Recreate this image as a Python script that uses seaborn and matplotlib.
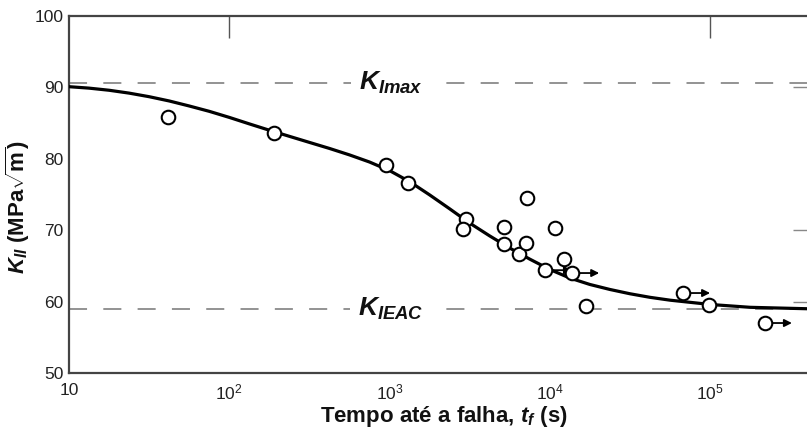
import numpy as np
import pandas as pd
import matplotlib
matplotlib.use("Agg")
import matplotlib.pyplot as plt
import seaborn as sns

# ---- data ----
t_fail = [41.5, 190, 950, 1300, 3000, 2880, 5180, 5180, 6430, 7210, 7100,
          9330, 10800, 12300, 13800, 16800, 67900, 98600, 220000]
k_ii = [85.9, 83.6, 79.1, 76.6, 71.6, 70.2, 70.4, 68.1, 66.7, 74.5, 68.2,
        64.4, 70.3, 66.0, 64.0, 59.4, 61.2, 59.5, 57.0]
runout = [False, False, False, False, False, False, False, False, False, False, False,
          True, False, False, True, False, True, False, True]

curve_t = [10, 13.3, 17.8, 23.7, 31.6, 42.2, 56.2, 75.0, 100, 133, 178, 237,
           316, 422, 562, 750, 1000, 1334, 1778, 2371, 3162, 4217, 5623, 7499,
           10000, 13335, 17783, 23714, 31623, 42170, 56234, 74989, 100000,
           177828, 402717]
curve_k = [90.1, 89.9, 89.6, 89.2, 88.7, 88.1, 87.4, 86.65, 85.8, 84.9, 84.0, 83.15,
           82.3, 81.45, 80.55, 79.55, 78.35, 76.8, 74.95, 73.0, 71.0, 69.2, 67.5, 65.95,
           64.5, 63.3, 62.4, 61.7, 61.1, 60.6, 60.2, 59.9, 59.6,
           59.2, 59.0]

k_imax = 90.6
k_ieac = 59.0

x_ticks = [10, 1e2, 1e3, 1e4, 1e5]
x_tick_labels = ["10", r"10$^{2}$", r"10$^{3}$", r"10$^{4}$", r"10$^{5}$"]
y_ticks = [50, 60, 70, 80, 90, 100]

pts = pd.DataFrame({"t": t_fail, "k": k_ii, "runout": runout})
crv = pd.DataFrame({"t": curve_t, "k": curve_k})

# ---- style ----
sns.set_theme(style="white")
plt.rcParams["font.family"] = ["Liberation Sans", "DejaVu Sans"]
plt.rcParams["mathtext.fontset"] = "custom"
plt.rcParams["mathtext.rm"] = "Liberation Sans"
plt.rcParams["mathtext.it"] = "Liberation Sans:italic:bold"
plt.rcParams["mathtext.bf"] = "Liberation Sans:bold"

fig = plt.figure(figsize=(8.07, 4.32), dpi=100)
ax = fig.add_axes([69 / 807, 1 - 373 / 432, 1 - 69 / 807, (373 - 16) / 432])

# reference lines
dash_kw = dict(color="#8a8a8a", lw=1.3, dashes=(10, 9), zorder=1)
ax.axhline(k_imax, **dash_kw)
ax.axhline(k_ieac, **dash_kw)

# fitted curve
sns.lineplot(data=crv, x="t", y="k", ax=ax, color="black", lw=2.3,
             sort=False, zorder=3, legend=False,
             solid_joinstyle="round", solid_capstyle="round")

# run-out arrows
arrow_len = 10 ** (27 / 160.25)
for t, k in zip(pts.loc[pts.runout, "t"], pts.loc[pts.runout, "k"]):
    ax.annotate("", xy=(t * arrow_len, k), xytext=(t, k),
                arrowprops=dict(arrowstyle="-|>", color="black", lw=1.3,
                                mutation_scale=11, shrinkA=4, shrinkB=0),
                zorder=4)

# data points
sns.scatterplot(data=pts, x="t", y="k", ax=ax, marker="o", s=95,
                facecolor="white", edgecolor="black", linewidth=1.5,
                zorder=5, legend=False)

ax.set_xscale("log")
ax.set_xlim(10, 10 ** 5.605)
ax.set_ylim(50, 100)
ax.xaxis.set_minor_locator(matplotlib.ticker.NullLocator())
ax.set_xticks(x_ticks)
ax.set_xticklabels(x_tick_labels)
ax.set_yticks(y_ticks)
ax.set_yticklabels([str(v) for v in y_ticks])

ax.tick_params(axis="x", direction="in", length=18, width=1.0, color="#555555",
               pad=7, labelsize=12.5, labelcolor="#222222")
ax.tick_params(axis="y", direction="in", length=12, width=1.0, color="#555555",
               pad=4, labelsize=12.5, labelcolor="#222222")

for side in ["left", "bottom", "top"]:
    ax.spines[side].set_color("#444444")
    ax.spines[side].set_linewidth(1.6)
ax.spines["right"].set_visible(False)

# extra tick marks on top and right
top = ax.secondary_xaxis("top")
top.set_xticks([1e2, 1e5])
top.xaxis.set_minor_locator(matplotlib.ticker.NullLocator())
top.tick_params(direction="in", length=16, width=1.0, color="#555555",
                labeltop=False)
top.spines["top"].set_visible(False)
right = ax.secondary_yaxis("right")
right.set_yticks([60, 70, 90])
right.tick_params(direction="in", length=10, width=1.0, color="#888888",
                  labelright=False)
right.spines["right"].set_visible(False)

# annotations
lab_kw = dict(ha="center", va="center", fontsize=19, color="#111111",
              bbox=dict(facecolor="white", edgecolor="none", pad=6), zorder=2)
lab_x = 10 ** (1 + (391 - 69) / 160.25)
ax.text(lab_x, k_imax, r"$K_{Imax}$", **lab_kw)
ax.text(lab_x, k_ieac, r"$K_{IEAC}$", **lab_kw)

ax.set_xlabel(r"Tempo até a falha, $t_{f}$ (s)", fontsize=16,
              fontweight="bold", color="#111111")
ax.xaxis.set_label_coords((444 - 69) / 738, -(404 - 373) / 357)
ax.set_ylabel(r"$K_{II}$ (MPa$\sqrt{\mathbf{m}}$)", fontsize=16, fontweight="bold",
              color="#111111")
ax.yaxis.set_label_coords(-(69 - 32) / 738, (373 - 207) / 357)

fig.savefig("out.png", dpi=100)
